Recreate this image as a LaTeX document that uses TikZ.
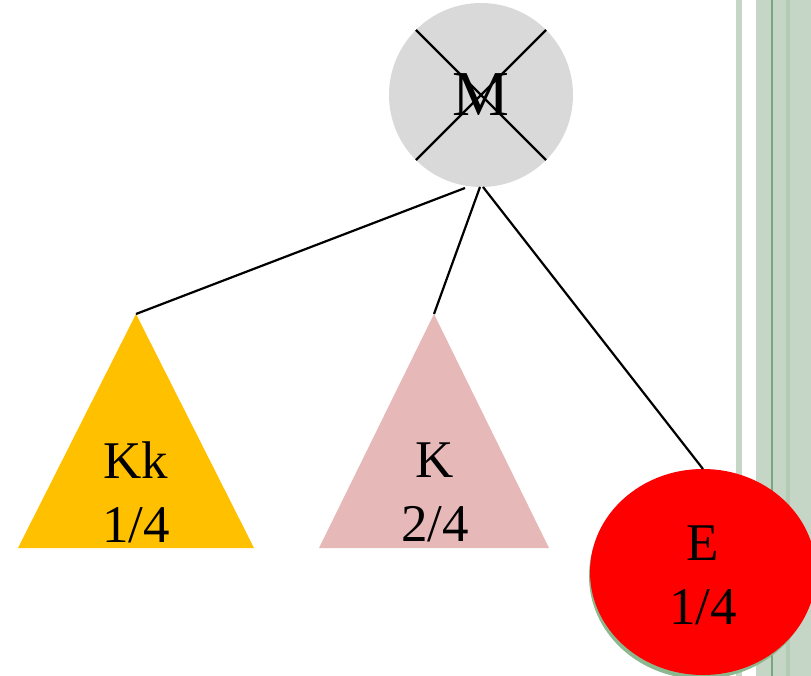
\documentclass[tikz,border=0pt]{standalone}
\usepackage{fontspec}
\setmainfont{Liberation Serif}
\usetikzlibrary{positioning,shapes.geometric}
\definecolor{mgrey}{HTML}{D9D9D9}
\definecolor{kkyellow}{HTML}{FFC000}
\definecolor{kpink}{HTML}{E6B9B8}
\definecolor{ered}{HTML}{FF0000}
\definecolor{stripegreen}{HTML}{C5D6C7}
\definecolor{stripemid}{HTML}{B2CBB4}
\definecolor{stripeline}{HTML}{79A67E}
\definecolor{shadowgreen}{HTML}{8CB88F}
\tikzset{
	lbl/.style={align=center, inner sep=0pt, font=\fontsize{53}{64}\selectfont},
	edge/.style={line width=2.2pt, color=black}
}

\begin{document}
\begin{tikzpicture}[x=1pt, y=-1pt]
		%%%%% START %%%%%
		\useasboundingbox (0, 0) rectangle (811, 676);
		
		\fill[stripegreen] (736, 0) rectangle (742, 676);
		\fill[stripegreen] (756, 0) rectangle (811, 676);
		\fill[stripemid] (786, 0) rectangle (790, 676);
		\draw[line width=2pt, color=stripeline] (772, 0) -- (772, 676);
		
		\node[circle, fill=mgrey, minimum size=184pt, inner sep=0pt, outer sep=0pt, font=\fontsize{64}{70}\selectfont] (m) at (481, 95) {M};
		\draw[edge] (m.north west) -- (m.south east);
		\draw[edge] (m.north east) -- (m.south west);
		
		\fill[kkyellow] (18, 548) -- (136, 314) -- (254, 548) -- cycle;
		\coordinate (kk) at (136, 314);
		\node[lbl] (kklabel) at (136, 492) {Kk\\1/4};
		
		\fill[kpink] (319, 548) -- (434, 314) -- (549, 548) -- cycle;
		\coordinate (k) at (434, 314);
		\node[lbl] (klabel) at (435, 492) {K\\2/4};
		
		\fill[shadowgreen] (701, 576) ellipse (112 and 103);
		\node[ellipse, fill=ered, minimum width=226pt, minimum height=206pt, inner sep=0pt, outer sep=0pt] (e) at (703, 572) {};
		\node[lbl] (elabel) at (703, 575) {E\\1/4};
		
		\coordinate (mleft) at (465, 188);
		\coordinate (mmid) at (480, 187);
		\coordinate (mright) at (483, 187);
		\draw[edge] (mleft) -- (kk);
		\draw[edge] (mmid) -- (k);
		\draw[edge] (mright) -- (e.north);
		
		%%%%% END %%%%%
	\end{tikzpicture}
\end{document}
